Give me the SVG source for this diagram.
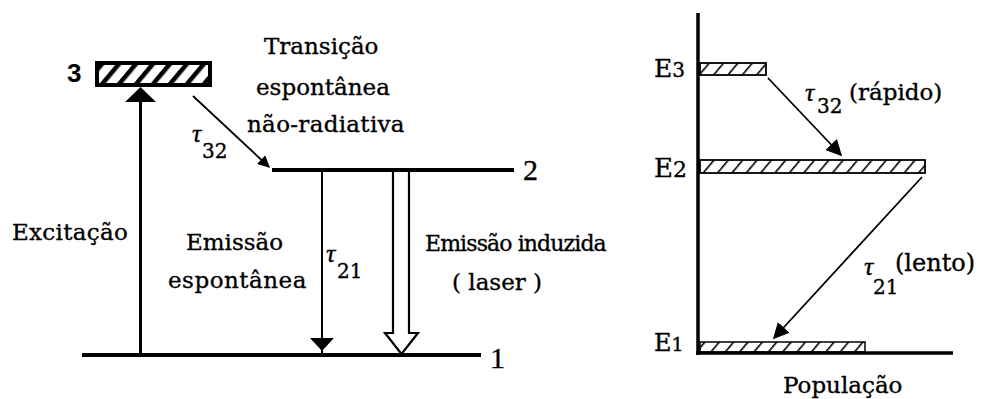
<svg xmlns="http://www.w3.org/2000/svg" width="981" height="399" viewBox="0 0 981 399">
  <style>
    text { font-family: "DejaVu Serif", "Liberation Serif", serif; fill: #000; stroke: #000; stroke-width: 0.35; }
    .lbl { font-size: 23px; }
    .num { font-family: "Liberation Serif", "Times New Roman", serif; font-size: 30px; }
    .tau { font-family: "Liberation Serif", "Times New Roman", serif; font-style: italic; font-size: 26px; }
    .sub { font-size: 20px; }
    .lev { stroke: #000; stroke-width: 4; fill: none; }
    .axis { stroke: #000; stroke-width: 3.5; fill: none; }
  </style>
  <defs>
    <pattern id="hatchBold" patternUnits="userSpaceOnUse" width="13" height="13" patternTransform="rotate(40)">
      <rect x="0" y="0" width="4.5" height="13" fill="#000"/>
    </pattern>
    <pattern id="hatchFine" patternUnits="userSpaceOnUse" width="11" height="11" patternTransform="rotate(40)">
      <rect x="0" y="0" width="1.6" height="11" fill="#000"/>
    </pattern>
    <marker id="headS" viewBox="0 0 10 10" refX="9" refY="5" markerWidth="12" markerHeight="12" markerUnits="userSpaceOnUse" orient="auto">
      <path d="M0,0 L10,5 L0,10 z" fill="#000"/>
    </marker>
    <marker id="headM" viewBox="0 0 10 10" refX="9" refY="5" markerWidth="16" markerHeight="16" markerUnits="userSpaceOnUse" orient="auto">
      <path d="M0,0 L10,5 L0,10 z" fill="#000"/>
    </marker>
  </defs>

  <!-- ===== Three-level scheme (left) ===== -->
  <g id="level3">
    <rect x="97" y="63" width="113" height="22" fill="#fff"/>
    <rect x="97" y="63" width="113" height="22" fill="url(#hatchBold)" stroke="#000" stroke-width="4"/>
    <text x="67" y="82" style="font-family:'Liberation Sans',Arial,sans-serif;font-size:26px;font-weight:bold;stroke-width:0">3</text>
  </g>

  <g id="level2">
    <line class="lev" x1="272" y1="170" x2="514" y2="170"/>
    <text class="num" x="523" y="180">2</text>
  </g>

  <g id="level1">
    <line class="lev" x1="82" y1="355" x2="481" y2="355"/>
    <text class="num" x="490" y="368">1</text>
  </g>

  <g id="connectors-left">
    <!-- pumping (excitation) -->
    <line x1="140.5" y1="355" x2="140.5" y2="100" stroke="#000" stroke-width="3"/>
    <polygon points="125,102 156,102 140.5,87" fill="#000"/>
    <!-- non-radiative decay 3 -> 2 -->
    <line x1="193" y1="96" x2="269" y2="167" stroke="#000" stroke-width="1.8" marker-end="url(#headS)"/>
    <!-- spontaneous emission 2 -> 1 -->
    <line x1="322" y1="170" x2="322" y2="355" stroke="#000" stroke-width="2"/>
    <polygon points="310,338 334,338 322,351" fill="#000"/>
    <!-- stimulated emission (laser), hollow arrow -->
    <polygon points="393,171 409,171 409,333 418,333 401.5,354 385,333 393,333" fill="#fff" stroke="#000" stroke-width="2.2"/>
  </g>

  <g id="labels-left">
    <text class="lbl" x="264" y="54">Transição</text>
    <text class="lbl" x="256" y="95">espontânea</text>
    <text class="lbl" x="247" y="132" style="letter-spacing:0.3px">não-radiativa</text>
    <text class="tau" x="192" y="142">τ</text>
    <text class="sub" x="202" y="158">32</text>
    <text class="lbl" x="12" y="240" style="letter-spacing:0.3px">Excitação</text>
    <text class="lbl" x="186" y="250">Emissão</text>
    <text class="lbl" x="168" y="288" style="letter-spacing:0.5px">espontânea</text>
    <text class="tau" x="326" y="262">τ</text>
    <text class="sub" x="337" y="278">21</text>
    <text class="lbl" x="425" y="251" style="font-size:22px;letter-spacing:-0.9px">Emissão induzida</text>
    <text class="lbl" x="452" y="290">( laser )</text>
  </g>

  <!-- ===== Population diagram (right) ===== -->
  <g id="axes">
    <line class="axis" x1="698" y1="13" x2="698" y2="355"/>
    <line class="axis" x1="696" y1="353" x2="953" y2="353"/>
    <text class="lbl" x="783" y="393">População</text>
  </g>

  <g id="E3">
    <rect x="700" y="63" width="66" height="12" fill="url(#hatchFine)" stroke="#000" stroke-width="1.8"/>
    <text x="654" y="77" style="font-size:25px">E<tspan style="font-size:20px">3</tspan></text>
  </g>

  <g id="E2">
    <rect x="700" y="160" width="225" height="13" fill="url(#hatchFine)" stroke="#000" stroke-width="1.8"/>
    <text x="654" y="177" style="font-size:26px">E<tspan style="font-size:22px">2</tspan></text>
  </g>

  <g id="E1">
    <rect x="700" y="342" width="165" height="10" fill="url(#hatchFine)" stroke="#000" stroke-width="1.5"/>
    <text x="654" y="351" style="font-size:24px">E<tspan style="font-size:19px">1</tspan></text>
  </g>

  <g id="connectors-right">
    <line x1="768" y1="78" x2="841" y2="155" stroke="#000" stroke-width="1.8" marker-end="url(#headM)"/>
    <line x1="922" y1="177" x2="774" y2="338" stroke="#000" stroke-width="1.8" marker-end="url(#headM)"/>
  </g>

  <g id="labels-right">
    <text class="tau" x="805" y="101">τ</text>
    <text class="sub" x="817" y="113">32</text>
    <text class="lbl" x="849" y="100">(rápido)</text>
    <text class="tau" x="864" y="275">τ</text>
    <text class="sub" x="873" y="294">21</text>
    <text class="lbl" x="895" y="271" style="font-size:24px">(lento)</text>
  </g>
</svg>
